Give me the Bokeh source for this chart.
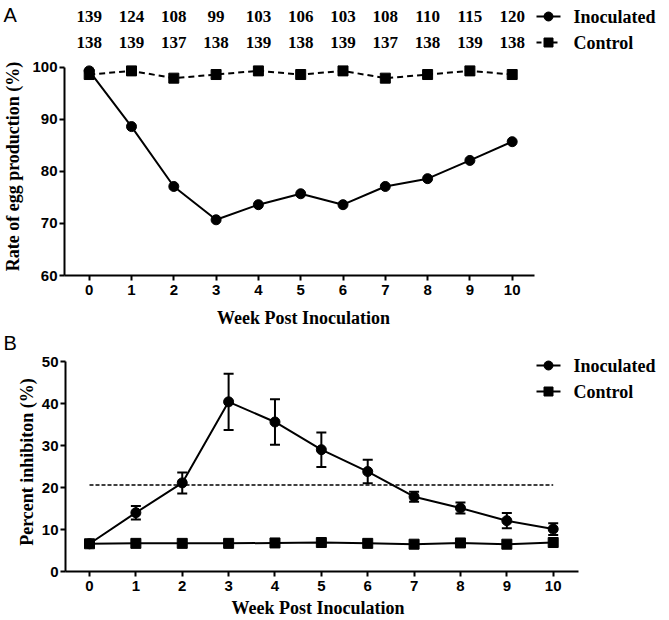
from bokeh.core.properties import value
from bokeh.embed import file_html
from bokeh.models import ColumnDataSource, Range1d, TeeHead, Title, Whisker
from bokeh.plotting import figure
from bokeh.resources import INLINE

# datos
weeks = list(range(11))
inoc_counts = [139, 124, 108, 99, 103, 106, 103, 108, 110, 115, 120]
ctrl_counts = [138, 139, 137, 138, 139, 138, 139, 137, 138, 139, 138]
inoc_rate = [99.3, 88.6, 77.1, 70.7, 73.6, 75.7, 73.6, 77.1, 78.6, 82.1, 85.7]
ctrl_rate = [98.6, 99.3, 97.9, 98.6, 99.3, 98.6, 99.3, 97.9, 98.6, 99.3, 98.6]
inoc_inhib = [6.6, 14.0, 21.1, 40.4, 35.6, 29.0, 23.8, 17.8, 15.1, 12.1, 10.1]
inoc_err = [0.0, 1.6, 2.5, 6.7, 5.4, 4.1, 2.8, 1.2, 1.3, 1.8, 1.4]
ctrl_inhib = [6.6, 6.7, 6.7, 6.7, 6.8, 6.9, 6.7, 6.5, 6.8, 6.5, 6.9]
cutoff = 20.6
rate_ticks = [60, 70, 80, 90, 100]
inhib_ticks = [0, 10, 20, 30, 40, 50]

SERIF = value("Liberation Serif")
SANS = "Liberation Sans"
W = 669


def limpio(p):
    p.outline_line_color = None
    p.grid.visible = False
    p.background_fill_color = "white"
    p.border_fill_color = "white"


def estilo_ejes(p, xb, yb, yticks):
    limpio(p)
    for ax in (p.xaxis[0], p.yaxis[0]):
        ax.axis_line_width = 2
        ax.axis_line_color = "black"
        ax.major_tick_line_width = 2
        ax.major_tick_line_color = "black"
        ax.major_tick_in = 0
        ax.major_tick_out = 5
        ax.minor_tick_line_color = None
        ax.major_label_text_font = SANS
        ax.major_label_text_font_style = "bold"
        ax.major_label_text_font_size = "15px"
        ax.major_label_text_color = "black"
        ax.axis_label_text_font = "Liberation Serif"
        ax.axis_label_text_font_style = "bold"
        ax.axis_label_text_font_size = "18px"
        ax.axis_label_text_color = "black"
    p.xaxis.ticker = weeks
    p.yaxis.ticker = yticks
    p.xaxis.bounds = xb
    p.yaxis.bounds = yb
    p.xaxis.major_label_standoff = 4
    p.yaxis.major_label_standoff = 2
    p.xaxis.axis_label_standoff = 10
    p.yaxis.axis_label_standoff = 6


def texto(p, x, y, t, size="17px", align="center", font=SERIF, style="bold"):
    p.text(x=x, y=y, text=t, text_font=font, text_font_style=style,
           text_font_size=size, text_align=align, text_baseline="middle",
           text_color="black")


def franja(h, xr):
    p = figure(width=W, height=h, output_backend="svg", toolbar_location=None,
               x_range=xr, y_range=Range1d(h, 0),
               x_axis_location=None, y_axis_location=None,
               min_border_left=0, min_border_right=0, min_border_top=0,
               min_border_bottom=0)
    limpio(p)
    return p


# ---------- Panel A ----------
ax0, axs = 88.7, 42.3          # pixel de la semana 0 y paso
top_a = 57

sa = franja(top_a, Range1d((0 - ax0) / axs, (W - ax0) / axs))
texto(sa, weeks, [16] * 11, [str(v) for v in inoc_counts])
texto(sa, weeks, [42] * 11, [str(v) for v in ctrl_counts])
lx0, lx1, lxm, ltx, lxa = [(v - ax0) / axs for v in (536, 560, 548, 573, 3)]
sa.line([lx0, lx1], [16, 16], line_width=2, color="black")
sa.scatter([lxm], [16], marker="circle", size=9, color="black")
sa.line([lx0, lx1], [42, 42], line_width=2, color="black", line_dash="5 3")
sa.scatter([lxm], [42], marker="square", size=9, color="black")
texto(sa, [ltx], [16], ["Inoculated"], size="18px", align="left")
texto(sa, [ltx], [42], ["Control"], size="18px", align="left")
texto(sa, [lxa], [14], ["A"], size="20px", align="left", font=value(SANS), style="normal")

pa = figure(width=W, height=330 - top_a, output_backend="svg", toolbar_location=None,
            x_range=Range1d((64 - ax0) / axs, (542 - ax0) / axs),
            y_range=Range1d(60, 60 + (281 - top_a) / 5.35),
            min_border_left=64, min_border_right=W - 542, min_border_top=0,
            min_border_bottom=49)
estilo_ejes(pa, ((64 - ax0) / axs, (534 - ax0) / axs), (60, 100), rate_ticks)
pa.xaxis.axis_label = "Week Post Inoculation"
pa.yaxis.axis_label = "Rate of egg production (%)"

pa.line(weeks, ctrl_rate, line_width=2, color="black", line_dash="6 4")
pa.line(weeks, inoc_rate, line_width=2, color="black")
pa.scatter(weeks, ctrl_rate, marker="square", size=10, color="black")
pa.scatter(weeks, inoc_rate, marker="circle", size=10, color="black")

# ---------- Panel B ----------
bx0, bxs = 89, 46.37
by0, bys = 571, 4.2
top_b = 352

sb = franja(top_b - 330, Range1d(0, W))
texto(sb, [3], [12], ["B"], size="20px", align="left", font=value(SANS), style="normal")

pb = figure(width=W, height=620 - top_b, output_backend="svg", toolbar_location=None,
            x_range=Range1d((65 - bx0) / bxs, (W - bx0) / bxs),
            y_range=Range1d(0, (by0 - top_b) / bys),
            min_border_left=65, min_border_right=0, min_border_top=0,
            min_border_bottom=620 - by0)
estilo_ejes(pb, ((65 - bx0) / bxs, (578 - bx0) / bxs), (0, 50), inhib_ticks)
pb.yaxis.axis_label = "Percent inhibiton (%)"
pb.yaxis.axis_label_standoff = 2
pb.add_layout(Title(text="Week Post Inoculation", align="left", offset=166,
                    standoff=4, vertical_align="bottom",
                    text_font="Liberation Serif", text_font_style="bold",
                    text_font_size="18px", text_color="black"), "below")

pb.line([0, 10], [cutoff, cutoff], line_width=1.5, color="black", line_dash="4 2")
pb.line(weeks, ctrl_inhib, line_width=2, color="black")
pb.line(weeks, inoc_inhib, line_width=2, color="black")
pb.scatter(weeks, ctrl_inhib, marker="square", size=10, color="black")
pb.scatter(weeks, inoc_inhib, marker="circle", size=10, color="black")

err_src = ColumnDataSource(dict(
    x=weeks[1:],
    lo=[m - e for m, e in zip(inoc_inhib[1:], inoc_err[1:])],
    hi=[m + e for m, e in zip(inoc_inhib[1:], inoc_err[1:])],
))
pb.add_layout(Whisker(base="x", lower="lo", upper="hi", source=err_src,
                      line_width=2, line_color="black",
                      upper_head=TeeHead(size=10, line_width=2, line_color="black"),
                      lower_head=TeeHead(size=10, line_width=2, line_color="black")))

brow1 = (by0 - 365) / bys
brow2 = (by0 - 391) / bys
mx0, mx1, mxm, mtx = [(v - bx0) / bxs for v in (536, 560, 548, 573)]
pb.line([mx0, mx1], [brow1, brow1], line_width=2, color="black")
pb.scatter([mxm], [brow1], marker="circle", size=9, color="black")
pb.line([mx0, mx1], [brow2, brow2], line_width=2, color="black")
pb.scatter([mxm], [brow2], marker="square", size=9, color="black")
texto(pb, [mtx], [brow1], ["Inoculated"], size="18px", align="left")
texto(pb, [mtx], [brow2], ["Control"], size="18px", align="left")

# cada figura como raiz propia, para que no se alineen los marcos
open("out.html", "w").write(file_html([sa, pa, sb, pb], INLINE))
